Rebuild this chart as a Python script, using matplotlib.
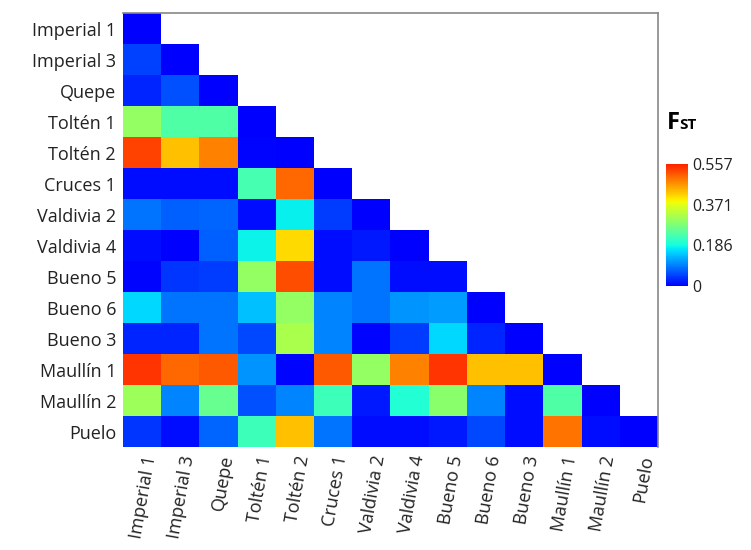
import numpy as np
import matplotlib
matplotlib.use("Agg")
import matplotlib.pyplot as plt
from matplotlib.colors import LinearSegmentedColormap

populations = [
    "Imperial 1", "Imperial 3", "Quepe", "Toltén 1", "Toltén 2", "Cruces 1",
    "Valdivia 2", "Valdivia 4", "Bueno 5", "Bueno 6", "Bueno 3", "Maullín 1",
    "Maullín 2", "Puelo",
]

# pairwise FST, lower triangle (row i has i+1 values, diagonal included)
fst_rows = [
    [0.0],
    [0.05, 0.0],
    [0.03, 0.06, 0.0],
    [0.30, 0.24, 0.24, 0.0],
    [0.53, 0.43, 0.48, 0.005, 0.0],
    [0.01, 0.01, 0.01, 0.23, 0.50, 0.0],
    [0.085, 0.07, 0.075, 0.01, 0.175, 0.045, 0.0],
    [0.01, 0.0, 0.07, 0.18, 0.41, 0.01, 0.02, 0.0],
    [0.005, 0.04, 0.045, 0.30, 0.52, 0.01, 0.085, 0.01, 0.01],
    [0.16, 0.085, 0.085, 0.14, 0.30, 0.10, 0.085, 0.11, 0.115, 0.0],
    [0.03, 0.03, 0.085, 0.055, 0.32, 0.10, 0.005, 0.045, 0.16, 0.03, 0.0],
    [0.54, 0.50, 0.51, 0.11, 0.005, 0.51, 0.30, 0.48, 0.54, 0.43, 0.43, 0.0],
    [0.31, 0.10, 0.26, 0.06, 0.10, 0.22, 0.02, 0.20, 0.29, 0.10, 0.01, 0.24, 0.0],
    [0.04, 0.01, 0.075, 0.22, 0.43, 0.085, 0.01, 0.01, 0.02, 0.055, 0.01, 0.49, 0.01, 0.0],
]

cbar_ticks = [0, 0.186, 0.371, 0.557]
cbar_labels = ["0", "0.186", "0.371", "0.557"]
vmax = 0.557

plt.rcParams['font.family'] = ['Open Sans', 'DejaVu Sans']

n = len(populations)
mat = np.full((n, n), np.nan)
for i, row in enumerate(fst_rows):
    mat[i, :len(row)] = row
mat = np.ma.masked_invalid(mat)

# jet without the dark ends: pure blue -> pure red
cmap = LinearSegmentedColormap.from_list("jet_mid", plt.cm.jet(np.linspace(0.125, 0.875, 256)))
cmap.set_bad("white")

fig = plt.figure(figsize=(7.51, 5.5), dpi=100)
ax = fig.add_axes([123 / 751, 1 - 447 / 550, 535 / 751, 434 / 550])
im = ax.imshow(mat, cmap=cmap, vmin=0, vmax=vmax, aspect='auto', interpolation='nearest')

ax.set_xticks(range(n))
ax.set_yticks(range(n))
ax.set_xticklabels(populations, rotation=80, ha='right', rotation_mode='anchor')
ax.set_yticklabels(populations)
ax.tick_params(length=0, labelsize=13, labelcolor='#222222', pad=5)
for side in ['left', 'bottom']:
    ax.spines[side].set_visible(False)
for side in ['top', 'right']:
    ax.spines[side].set_color('#888888')
    ax.spines[side].set_linewidth(1.2)

cax = fig.add_axes([666 / 751, 1 - 286 / 550, 22 / 751, 122 / 550])
cb = fig.colorbar(im, cax=cax, ticks=cbar_ticks)
cb.ax.set_yticklabels(cbar_labels)
cb.outline.set_visible(False)
cb.ax.tick_params(length=0, labelsize=11.5, labelcolor='#222222', pad=3)

fig.text(667 / 751, 1 - 123 / 550, "F", fontsize=17, fontweight='bold', ha='left', va='center')
fig.text(679 / 751, 1 - 125 / 550, "ST", fontsize=11, fontweight='bold', ha='left', va='center')

fig.savefig("out.png", dpi=100)
